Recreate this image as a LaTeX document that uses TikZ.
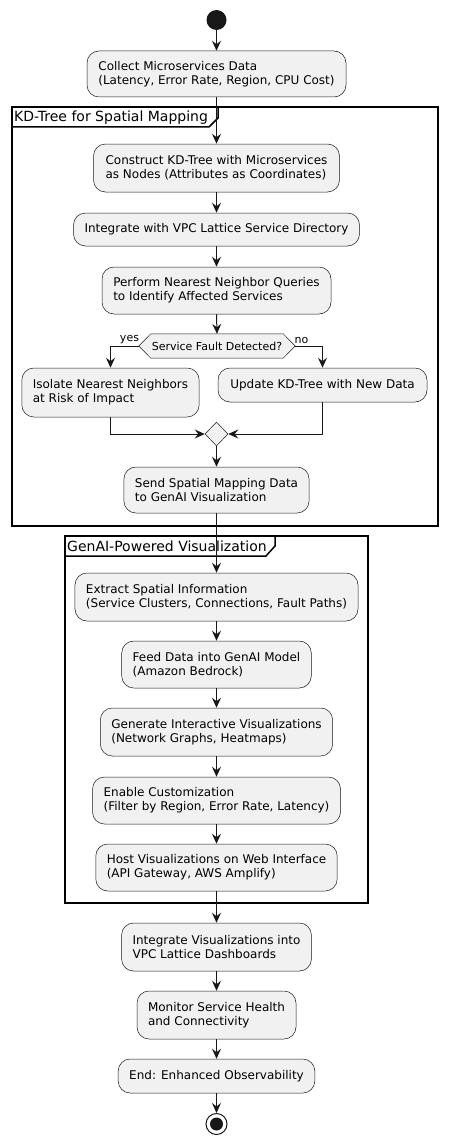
\documentclass[tikz,border=0pt]{standalone}
\usepackage{fontspec}
\setmainfont{DejaVu Sans}
\usetikzlibrary{arrows.meta,shapes.geometric,calc}
\definecolor{cline}{HTML}{181818}
\definecolor{cfill}{HTML}{F1F1F1}
\tikzset{
  act/.style={draw=cline, line width=0.5pt, fill=cfill, rounded corners=12pt,
    inner xsep=11pt, inner ysep=0pt, align=left, font=\fontsize{12}{14.2}\selectfont},
  arr/.style={draw=cline, line width=1pt, -{Stealth[length=10pt,width=9pt,inset=3.5pt]}},
  conn/.style={draw=cline, line width=1pt},
  frame/.style={draw=black, line width=1.5pt, inner sep=0pt},
  ftitle/.style={anchor=west, inner sep=0pt, font=\fontsize{14}{16}\selectfont},
  small/.style={inner sep=0pt, font=\fontsize{11}{13}\selectfont},
}
\begin{document}
\begin{tikzpicture}[x=1pt,y=-1pt]
\useasboundingbox (0,0) rectangle (448,1145);
% frames
\node[frame, minimum width=426pt, minimum height=419pt] (f1) at (225,316.5) {};
\draw[line width=1.5pt] (12,107) -- (218,107) -- (218,118) -- (209,127) -- (12,127);
\node[ftitle] (f1t) at (14,117.5) {KD-Tree for Spatial Mapping};
\node[frame, minimum width=303pt, minimum height=367pt] (f2) at (216.5,719.5) {};
\draw[line width=1.5pt] (65,536) -- (275,536) -- (275,546) -- (266,556) -- (65,556);
\node[ftitle] (f2t) at (67,546.5) {GenAI-Powered Visualization};
% start
\node[circle, fill=cline, minimum size=20pt, inner sep=0pt] (start) at (216.5,20) {};
% boxes
\node[act, minimum width=259pt, minimum height=46pt] (b1) at (216.5,74) {Collect Microservices Data\\(Latency, Error Rate, Region, CPU Cost)};
\node[act, minimum width=246pt, minimum height=48pt] (b2) at (216.5,168) {Construct KD-Tree with Microservices\\as Nodes (Attributes as Coordinates)};
\node[act, minimum width=284pt, minimum height=33pt] (b3) at (216.5,229.5) {Integrate with VPC Lattice Service Directory};
\node[act, minimum width=229pt, minimum height=47pt] (b4) at (216.5,290.5) {Perform Nearest Neighbor Queries\\to Identify Affected Services};
% decision
\node[minimum width=156pt, minimum height=24pt, inner sep=0pt] (dec) at (217,346) {};
\draw[draw=cline, line width=0.5pt, fill=cfill] (dec.west) -- ([xshift=12pt]dec.north west) -- ([xshift=-12pt]dec.north east) -- (dec.east) -- ([xshift=-12pt]dec.south east) -- ([xshift=12pt]dec.south west) -- cycle;
\node[small] (dect) at (dec) {Service Fault Detected?};
\node[act, minimum width=175pt, minimum height=49pt] (b5) at (110.5,392.5) {Isolate Nearest Neighbors\\at Risk of Impact};
\node[act, minimum width=209pt, minimum height=34pt] (b6) at (322.5,385) {Update KD-Tree with New Data};
\node[diamond, draw=cline, line width=0.5pt, fill=cfill, minimum width=23pt, minimum height=24pt, inner sep=0pt] (merge) at (216.5,434) {};
\node[act, minimum width=184pt, minimum height=46pt] (b7) at (216.5,490) {Send Spatial Mapping Data\\to GenAI Visualization};
\node[act, minimum width=282pt, minimum height=48pt] (b8) at (216.5,597) {Extract Spatial Information\\(Service Clusters, Connections, Fault Paths)};
\node[act, minimum width=187pt, minimum height=47pt] (b9) at (216.5,664.5) {Feed Data into GenAI Model\\(Amazon Bedrock)};
\node[act, minimum width=231pt, minimum height=48pt] (b10) at (216.5,732) {Generate Interactive Visualizations\\(Network Graphs, Heatmaps)};
\node[act, minimum width=248pt, minimum height=47pt] (b11) at (216.5,800.5) {Enable Customization\\(Filter by Region, Error Rate, Latency)};
\node[act, minimum width=240pt, minimum height=47pt] (b12) at (216.5,867.5) {Host Visualizations on Web Interface\\(API Gateway, AWS Amplify)};
\node[act, minimum width=189pt, minimum height=48pt] (b13) at (216.5,947) {Integrate Visualizations into\\VPC Lattice Dashboards};
\node[act, minimum width=158pt, minimum height=48pt] (b14) at (216.5,1015) {Monitor Service Health\\and Connectivity};
\node[act, minimum width=194pt, minimum height=34pt] (b15) at (216.5,1076) {End: Enhanced Observability};
% end
\node[circle, draw=cline, line width=1pt, fill=white, minimum size=21pt, inner sep=0pt] (stop) at (216.5,1124) {};
\node[circle, fill=cline, minimum size=13pt, inner sep=0pt] (stopin) at (stop) {};
% connectors
\draw[arr] (start) -- (b1);
\draw[arr] (b1) -- (b2);
\draw[arr] (b2) -- (b3);
\draw[arr] (b3) -- (b4);
\draw[arr] (b4.south) -- (dec.north);
\draw[arr] (dec.west) -| (b5.north);
\draw[arr] (dec.east) -| (b6.north);
\node[small] (yes) at (129.5,340) {yes};
\node[small] (no) at (301.5,340) {no};
\draw[arr] (b5.south) |- (merge.west);
\draw[arr] (b6.south) |- (merge.east);
\draw[arr] (merge.south) -- (b7.north);
\draw[arr] (b7) -- (b8);
\draw[arr] (b8) -- (b9);
\draw[arr] (b9) -- (b10);
\draw[arr] (b10) -- (b11);
\draw[arr] (b11) -- (b12);
\draw[arr] (b12) -- (b13);
\draw[arr] (b13) -- (b14);
\draw[arr] (b14) -- (b15);
\draw[arr] (b15) -- (stop);
\end{tikzpicture}
\end{document}
